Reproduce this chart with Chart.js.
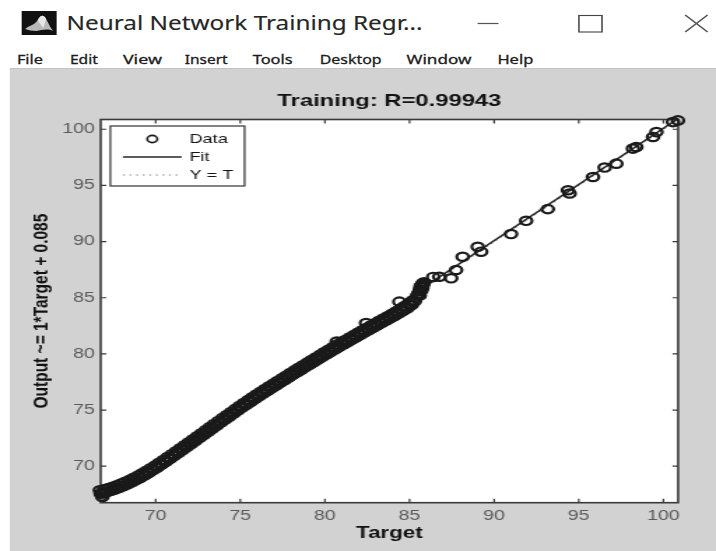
<!DOCTYPE html>
<html>
<head>
<meta charset="utf-8">
<title>Neural Network Training Regression</title>
<script src="https://cdn.jsdelivr.net/npm/chart.js@4.4.1/dist/chart.umd.min.js"></script>
<style>
  html, body { margin: 0; padding: 0; background: #fff; overflow: hidden; width: 716px; height: 551px; }
  #wrap { position: absolute; left: 0; top: 0; width: 512px; height: 551px; transform: scaleX(1.3984); transform-origin: 0 0; }
  #hdr { position: absolute; left: 0; top: 0; }
  #panel { position: absolute; left: 7.1px; top: 68px; width: 505px; height: 483px; background: #d2d2d2; border-top: 1px solid #c4c4c4; box-sizing: border-box; }
  #c { position: absolute; left: 0; top: -1px; }
</style>
</head>
<body>
<div id="wrap">
  <svg id="hdr" width="512" height="68" xmlns="http://www.w3.org/2000/svg">
    <rect width="512" height="68" fill="#ffffff"/>
    <rect x="15.5" y="11" width="25" height="24" fill="#111"/>
    <path d="M18,29 C21,25 24,26 27,20 C29,15 31,14 33,19 C35,24 36,28 38,31 C34,28 30,30 26,31 C23,31 20,30 18,29 Z" fill="#b8b8b8"/>
    <path d="M27,20 C29,15 31,14 33,19 L31,28 C29,25 28,22 27,20 Z" fill="#e6e6e6"/>
    <text x="47.6" y="30" font-family="'Noto Sans', 'Open Sans', sans-serif" font-size="19.6" fill="#262626" stroke="#262626" stroke-width="0.15" textLength="254.5" lengthAdjust="spacingAndGlyphs">Neural Network Training Regr...</text>
    <line x1="341.5" y1="23.5" x2="356.5" y2="23.5" stroke="#555" stroke-width="1.2"/>
    <rect x="414" y="15.5" width="16.5" height="16.5" fill="none" stroke="#444" stroke-width="1.1"/>
    <path d="M490,15 L506,32 M506,15 L490,32" stroke="#555" stroke-width="1.1" fill="none"/>
    <g font-family="'Noto Sans', 'Open Sans', sans-serif" font-size="12.5" fill="#1c1c1c" stroke="#1c1c1c" stroke-width="0.3">
      <text x="12.1" y="64" textLength="18.6" lengthAdjust="spacingAndGlyphs">File</text>
      <text x="50" y="64" textLength="20" lengthAdjust="spacingAndGlyphs">Edit</text>
      <text x="87.9" y="64" textLength="27.9" lengthAdjust="spacingAndGlyphs">View</text>
      <text x="132.1" y="64" textLength="30.7" lengthAdjust="spacingAndGlyphs">Insert</text>
      <text x="180.7" y="64" textLength="28.6" lengthAdjust="spacingAndGlyphs">Tools</text>
      <text x="228.6" y="64" textLength="44.3" lengthAdjust="spacingAndGlyphs">Desktop</text>
      <text x="290.7" y="64" textLength="46.4" lengthAdjust="spacingAndGlyphs">Window</text>
      <text x="355.7" y="64" textLength="25.7" lengthAdjust="spacingAndGlyphs">Help</text>
    </g>
  </svg>
  <div id="panel"><canvas id="c" width="505" height="483"></canvas></div>
</div>
<script>
// ---------- data ----------
const chartTitle = 'Training: R=0.99943';
const xAxisTitle = 'Target';
const yAxisTitle = 'Output ~= 1*Target + 0.085';
const seriesLabels = ['Data', 'Fit', 'Y = T'];

const xTickValues = [70, 75, 80, 85, 90, 95, 100];
const yTickValues = [70, 75, 80, 85, 90, 95, 100];
const axisMin = 66.75;
const axisMax = 100.87;

// dense band of training points (upper edge)
const bandUpperTarget = [66.70,66.95,67.20,67.45,67.70,67.95,68.20,68.45,68.70,68.95,
  69.20,69.45,69.70,69.95,70.20,70.45,70.70,70.95,71.20,71.45,
  71.70,71.95,72.20,72.45,72.70,72.95,73.20,73.45,73.70,73.95,
  74.20,74.45,74.70,74.95,75.20,75.45,75.70,75.95,76.20,76.45,
  76.70,76.95,77.20,77.45,77.70,77.95,78.20,78.45,78.70,78.95,
  79.20,79.45,79.70,79.95,80.20,80.45,80.70,80.95,81.20,81.45,
  81.70,81.95,82.20,82.45,82.70,82.95,83.20,83.45,83.70,83.95,
  84.20,84.45,84.70,84.95,85.20,85.45];
const bandUpperOutput = [67.85,67.95,68.05,68.16,68.30,68.45,68.61,68.78,68.97,69.16,
  69.37,69.59,69.82,70.05,70.30,70.55,70.81,71.07,71.33,71.60,
  71.86,72.13,72.40,72.67,72.94,73.21,73.48,73.76,74.03,74.30,
  74.56,74.83,75.10,75.37,75.62,75.88,76.13,76.38,76.63,76.87,
  77.11,77.35,77.59,77.82,78.06,78.30,78.53,78.76,78.99,79.22,
  79.45,79.68,79.91,80.14,80.37,80.59,80.81,81.03,81.24,81.46,
  81.67,81.89,82.10,82.31,82.52,82.73,82.94,83.15,83.35,83.56,
  83.77,83.99,84.21,84.45,84.77,85.20];
// dense band of training points (middle)
const bandMiddleTarget = [66.82,67.07,67.32,67.57,67.82,68.07,68.32,68.57,68.82,69.07,
  69.32,69.57,69.82,70.07,70.32,70.57,70.82,71.07,71.32,71.57,
  71.82,72.07,72.32,72.57,72.82,73.07,73.32,73.57,73.82,74.07,
  74.32,74.57,74.82,75.07,75.32,75.57,75.82,76.07,76.32,76.57,
  76.82,77.07,77.32,77.57,77.82,78.07,78.32,78.57,78.82,79.07,
  79.32,79.57,79.82,80.07,80.32,80.57,80.82,81.07,81.32,81.57,
  81.82,82.07,82.32,82.57,82.82,83.07,83.32,83.57,83.82,84.07,
  84.32,84.57,84.82,85.07,85.32];
const bandMiddleOutput = [67.60,67.70,67.81,67.93,68.08,68.23,68.40,68.57,68.76,68.96,
  69.17,69.40,69.63,69.87,70.12,70.38,70.64,70.90,71.16,71.43,
  71.69,71.96,72.23,72.50,72.77,73.04,73.31,73.59,73.86,74.13,
  74.39,74.66,74.93,75.20,75.45,75.70,75.95,76.20,76.45,76.69,
  76.93,77.17,77.40,77.63,77.87,78.11,78.34,78.57,78.80,79.03,
  79.26,79.49,79.72,79.95,80.17,80.39,80.61,80.83,81.04,81.26,
  81.47,81.69,81.90,82.11,82.32,82.53,82.74,82.95,83.15,83.36,
  83.57,83.79,84.02,84.30,84.68];
// dense band of training points (lower edge)
const bandLowerTarget = [66.89,67.14,67.39,67.64,67.89,68.14,68.39,68.64,68.89,69.14,
  69.39,69.64,69.89,70.14,70.39,70.64,70.89,71.14,71.39,71.64,
  71.89,72.14,72.39,72.64,72.89,73.14,73.39,73.64,73.89,74.14,
  74.39,74.64,74.89,75.14,75.39,75.64,75.89,76.14,76.39,76.64,
  76.89,77.14,77.39,77.64,77.89,78.14,78.39,78.64,78.89,79.14,
  79.39,79.64,79.89,80.14,80.39,80.64,80.89,81.14,81.39,81.64,
  81.89,82.14,82.39,82.64,82.89,83.14,83.39,83.64,83.89,84.14,
  84.39,84.64,84.89,85.14];
const bandLowerOutput = [67.63,67.73,67.83,67.96,68.11,68.27,68.44,68.62,68.81,69.02,
  69.24,69.47,69.70,69.94,70.19,70.45,70.71,70.97,71.24,71.50,
  71.77,72.04,72.31,72.58,72.85,73.12,73.39,73.67,73.94,74.20,
  74.47,74.74,75.01,75.26,75.52,75.77,76.02,76.27,76.51,76.75,
  76.99,77.23,77.47,77.70,77.94,78.18,78.41,78.64,78.87,79.10,
  79.33,79.56,79.79,80.02,80.24,80.46,80.68,80.89,81.11,81.32,
  81.54,81.75,81.96,82.17,82.38,82.59,82.80,83.00,83.21,83.42,
  83.64,83.86,84.09,84.39];
// corner points and the hook near 86
const hookTarget = [66.75,66.85,85.52,85.58,85.62,85.68,85.72,85.78,85.85,85.60,85.70,85.76,85.82,85.66];
const hookOutput = [67.55,67.25,85.35,85.55,85.75,85.95,86.12,86.28,86.38,85.20,85.65,85.90,86.20,86.05];
// isolated points
const sparseTarget = [80.70,82.43,84.40,86.40,86.76,87.46,87.75,88.14,89.03,89.23,91.00,91.89,
  93.17,94.36,94.46,95.84,96.53,97.22,98.20,98.40,99.39,99.59,100.57,100.86];
const sparseOutput = [81.10,82.74,84.65,86.85,86.87,86.73,87.47,88.65,89.54,89.10,90.67,91.85,
  92.89,94.57,94.28,95.75,96.59,96.94,98.28,98.42,99.31,99.75,100.64,100.79];

// fit line (Output = 1*Target + 0.085) and identity line
const fitTarget = [66.70, 100.86];
const fitOutput = [66.785, 100.945];
const identTarget = [66.75, 100.87];
const identOutput = [66.75, 100.87];

// ---------- build datasets ----------
function pairs(xs, ys) { return xs.map((v, i) => ({ x: v, y: ys[i] })); }
const dataPoints = [].concat(
  pairs(bandUpperTarget, bandUpperOutput),
  pairs(bandMiddleTarget, bandMiddleOutput),
  pairs(bandLowerTarget, bandLowerOutput),
  pairs(hookTarget, hookOutput),
  pairs(sparseTarget, sparseOutput)
);

const FONT = "'Liberation Sans', Arial, Helvetica, sans-serif";

const boxPlugin = {
  id: 'matlabBox',
  beforeDatasetsDraw(chart) {
    const { ctx, chartArea: a, scales: { x, y } } = chart;
    ctx.save();
    ctx.fillStyle = '#ffffff';
    ctx.fillRect(a.left, a.top, a.right - a.left, a.bottom - a.top);
    ctx.strokeStyle = '#3a3a3a';
    ctx.lineWidth = 1.6;
    ctx.strokeRect(a.left, a.top, a.right - a.left, a.bottom - a.top);
    ctx.lineWidth = 1.2;
    ctx.beginPath();
    xTickValues.forEach(v => {
      const p = x.getPixelForValue(v);
      ctx.moveTo(p, a.bottom); ctx.lineTo(p, a.bottom - 4);
      ctx.moveTo(p, a.top); ctx.lineTo(p, a.top + 4);
    });
    yTickValues.forEach(v => {
      const p = y.getPixelForValue(v);
      ctx.moveTo(a.left, p); ctx.lineTo(a.left + 4, p);
      ctx.moveTo(a.right, p); ctx.lineTo(a.right - 4, p);
    });
    ctx.stroke();
    ctx.restore();
  }
};

const legendPlugin = {
  id: 'matlabLegend',
  afterDatasetsDraw(chart) {
    const { ctx, chartArea: a } = chart;
    const ds = chart.data.datasets;
    const bx = a.left + 6.9, by = a.top + 6.5, bw = 96, bh = 60;
    ctx.save();
    ctx.fillStyle = '#ffffff';
    ctx.fillRect(bx, by, bw, bh);
    ctx.strokeStyle = '#333';
    ctx.lineWidth = 1.2;
    ctx.strokeRect(bx, by, bw, bh);
    const rows = [by + 13, by + 31, by + 49];
    const lx0 = bx + 9, lx1 = bx + 51, tx = bx + 56.5;
    // Data marker
    ctx.beginPath();
    ctx.strokeStyle = ds[0].borderColor;
    ctx.lineWidth = 1.6;
    ctx.arc((lx0 + lx1) / 2, rows[0], 3.6, 0, Math.PI * 2);
    ctx.stroke();
    // Fit line
    ctx.beginPath();
    ctx.strokeStyle = ds[1].borderColor;
    ctx.lineWidth = ds[1].borderWidth;
    ctx.moveTo(lx0, rows[1]); ctx.lineTo(lx1, rows[1]);
    ctx.stroke();
    // Y = T dotted
    ctx.beginPath();
    ctx.setLineDash(ds[2].borderDash);
    ctx.strokeStyle = ds[2].borderColor;
    ctx.lineWidth = ds[2].borderWidth;
    ctx.moveTo(lx0, rows[2]); ctx.lineTo(lx1, rows[2]);
    ctx.stroke();
    ctx.setLineDash([]);
    ctx.fillStyle = '#151515';
    ctx.font = '13px ' + FONT;
    ctx.textBaseline = 'middle';
    ctx.textAlign = 'left';
    ds.forEach((d, i) => ctx.fillText(d.label, tx, rows[i]));
    ctx.restore();
  }
};

new Chart(document.getElementById('c'), {
  type: 'scatter',
  data: {
    datasets: [
      {
        label: seriesLabels[0],
        data: dataPoints,
        showLine: false,
        pointStyle: 'circle',
        pointRadius: 4.2,
        pointBorderWidth: 2.2,
        borderColor: '#1a1a1a',
        pointBorderColor: '#1a1a1a',
        backgroundColor: 'rgba(0,0,0,0)',
        pointBackgroundColor: 'rgba(0,0,0,0)',
        clip: false
      },
      {
        label: seriesLabels[1],
        data: pairs(fitTarget, fitOutput),
        showLine: true,
        borderColor: '#262626',
        borderWidth: 1.6,
        pointRadius: 0,
        fill: false
      },
      {
        label: seriesLabels[2],
        data: pairs(identTarget, identOutput),
        showLine: true,
        borderColor: '#8c8c8c',
        borderWidth: 1.2,
        borderDash: [1.5, 3.2],
        pointRadius: 0,
        fill: false
      }
    ]
  },
  options: {
    responsive: false,
    animation: false,
    devicePixelRatio: 1,
    layout: { padding: { left: 0, right: 27.1, top: 0, bottom: 0 }, autoPadding: false },
    plugins: {
      legend: { display: false },
      tooltip: { enabled: false },
      title: {
        display: true,
        text: chartTitle,
        fullSize: false,
        color: '#111',
        font: { family: FONT, size: 17, weight: 'bold', lineHeight: 1.2 },
        padding: { top: 22.8, bottom: 8.3 }
      }
    },
    scales: {
      x: {
        type: 'linear',
        min: axisMin,
        max: axisMax,
        grid: { display: false, drawTicks: false },
        border: { display: false },
        ticks: {
          color: '#5a5a5a',
          font: { family: FONT, size: 14 },
          padding: 4.6,
          callback: v => String(v)
        },
        afterBuildTicks: s => { s.ticks = xTickValues.map(v => ({ value: v })); },
        afterFit: s => { s.height = 48.3; },
        title: {
          display: true,
          text: xAxisTitle,
          color: '#111',
          font: { family: FONT, size: 16, weight: 'bold', lineHeight: 1.2 },
          padding: { top: 0, bottom: 7.6 }
        }
      },
      y: {
        type: 'linear',
        min: axisMin,
        max: axisMax,
        grid: { display: false, drawTicks: false },
        border: { display: false },
        ticks: {
          color: '#5a5a5a',
          font: { family: FONT, size: 14 },
          padding: 4.2,
          callback: v => String(v)
        },
        afterBuildTicks: s => { s.ticks = yTickValues.map(v => ({ value: v })); },
        afterFit: s => { s.width = 65; },
        title: {
          display: true,
          text: yAxisTitle,
          color: '#111',
          font: { family: FONT, size: 15.5, weight: 'bold', lineHeight: 1.2 },
          padding: { top: 13.4, bottom: 0 }
        }
      }
    }
  },
  plugins: [boxPlugin, legendPlugin]
});
</script>
</body>
</html>
